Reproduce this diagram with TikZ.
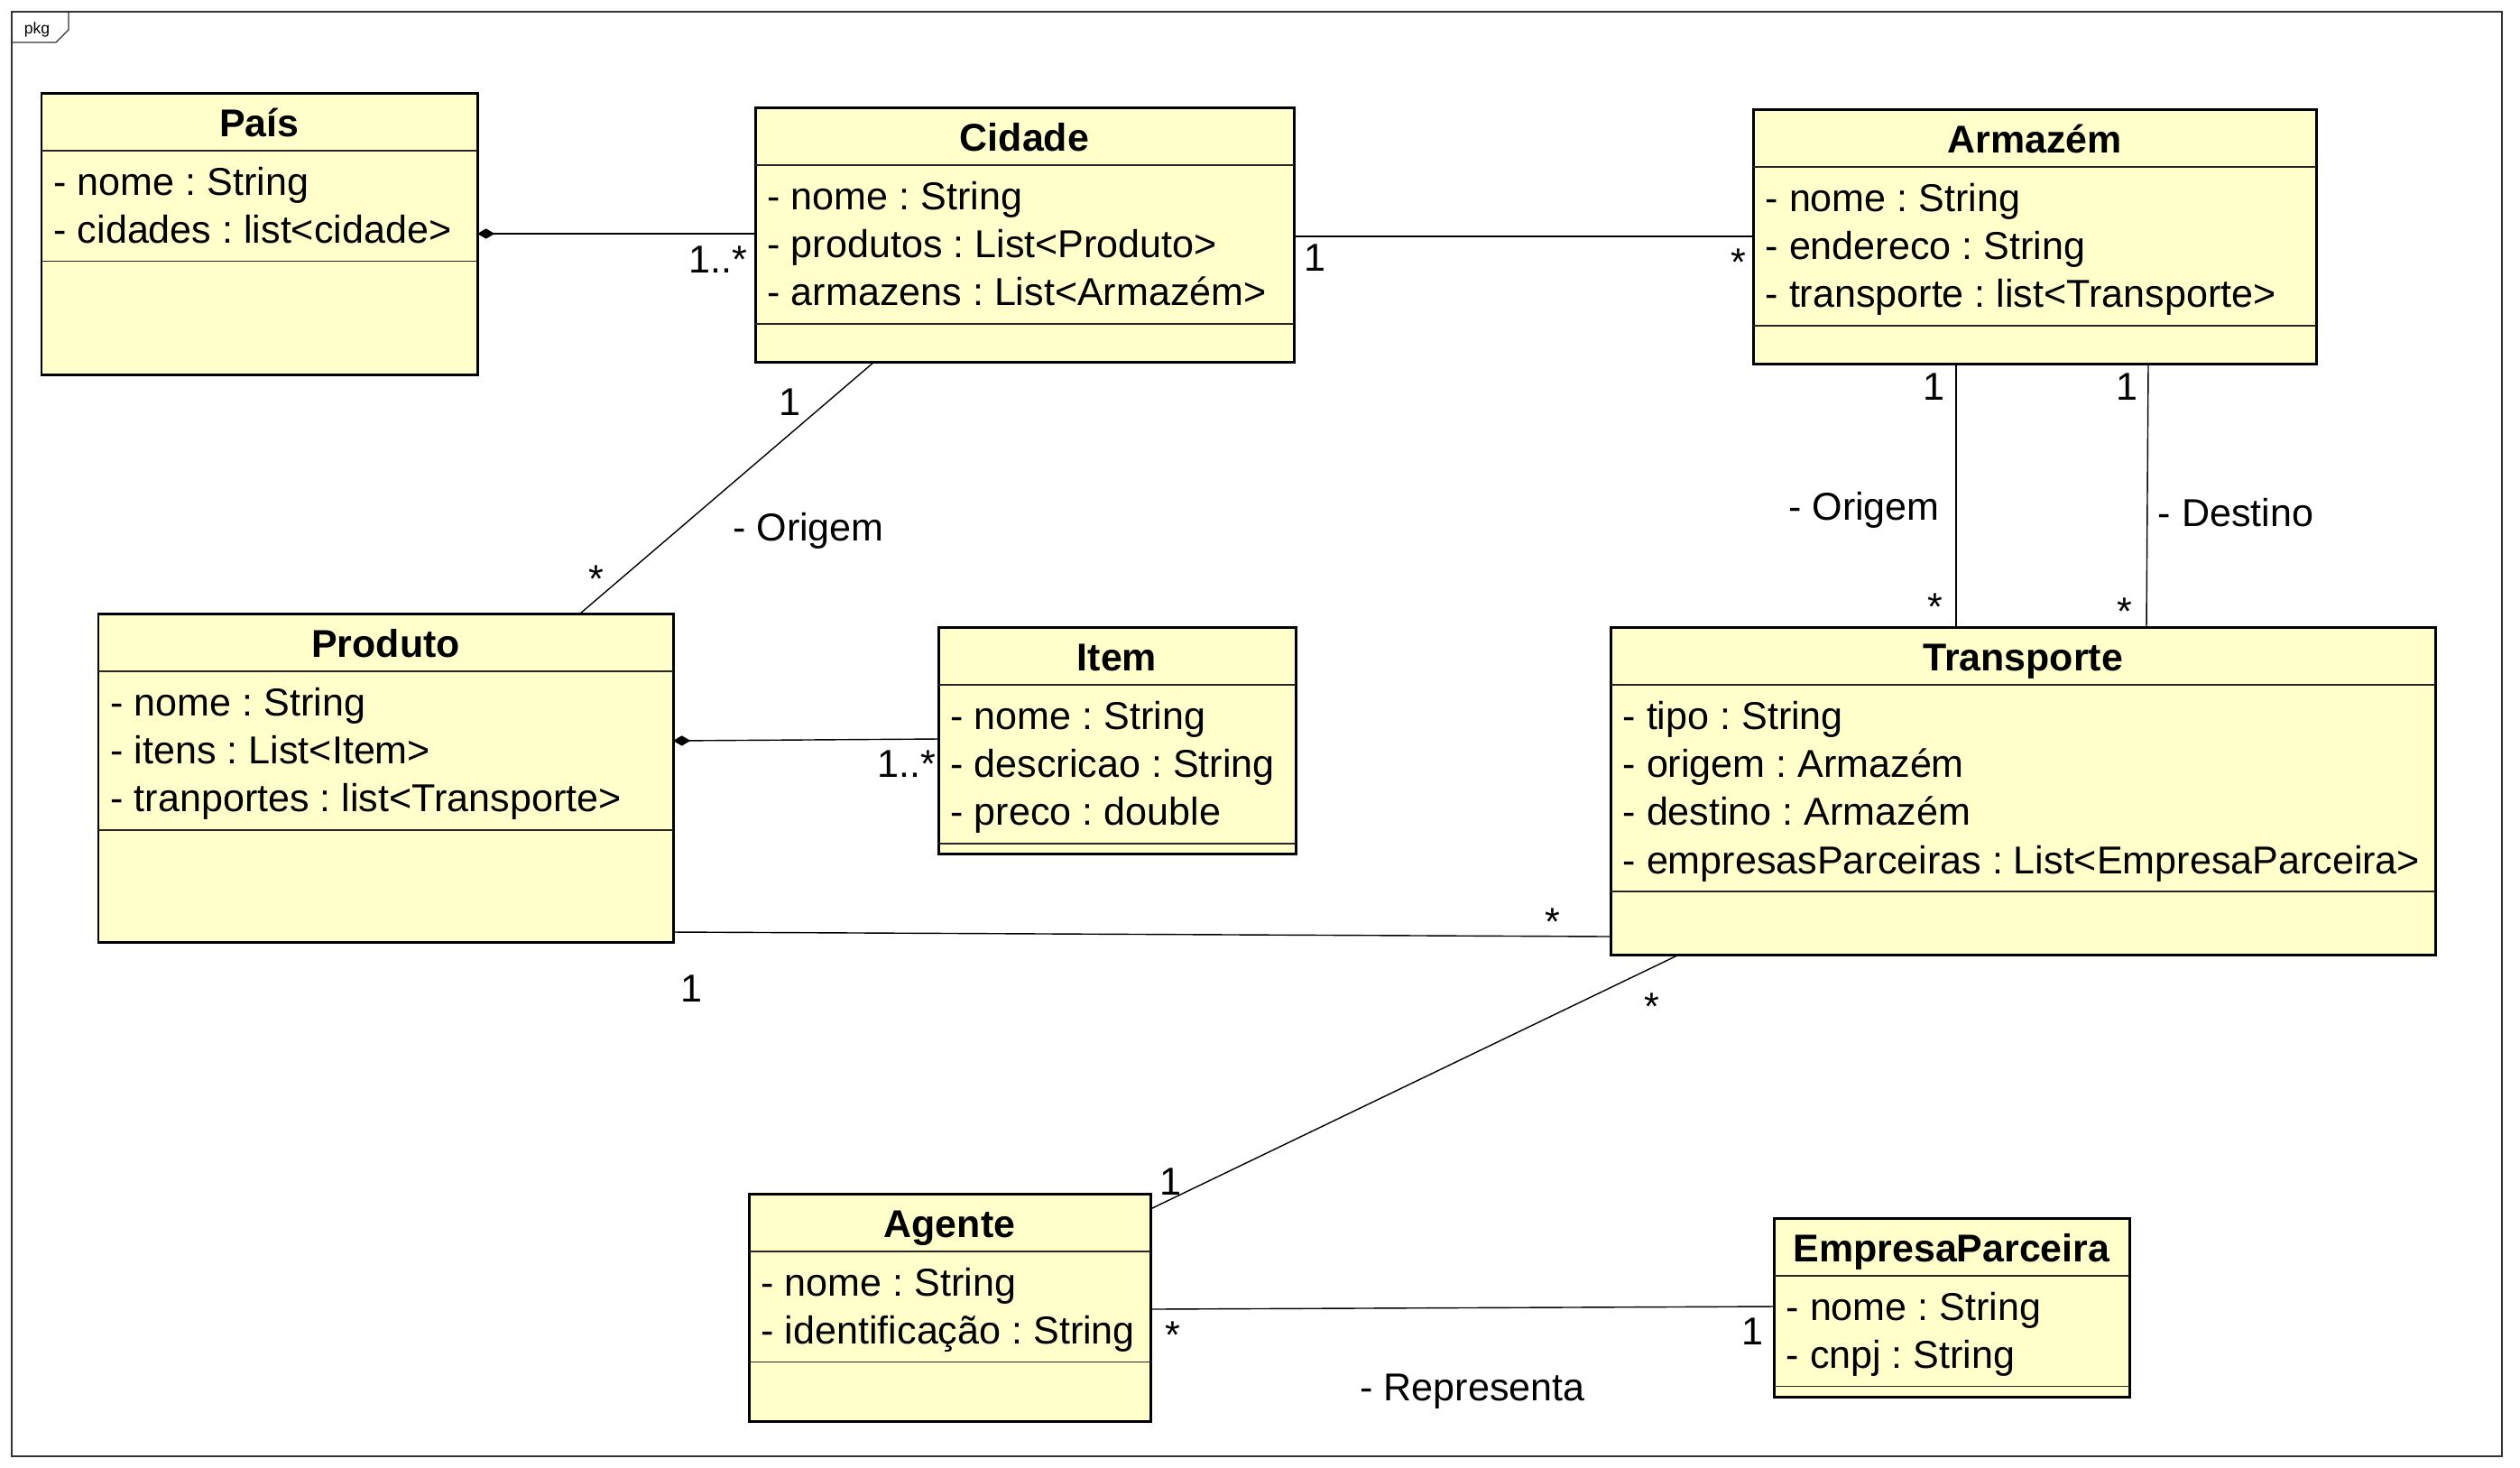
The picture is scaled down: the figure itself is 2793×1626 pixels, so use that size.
\documentclass[tikz,border=0pt]{standalone}
\usepackage{fontspec}
\setmainfont{Liberation Sans}
\usetikzlibrary{fit,arrows.meta}
\definecolor{classfill}{HTML}{FFFFCC}
\frenchspacing
\tikzset{
  classbox/.style={draw=black, fill=classfill, line width=0.85pt, inner sep=0pt, outer sep=0pt},
  divider/.style={draw=black!85, line width=0.45pt},
  titletext/.style={font=\fontsize{12.2}{14}\selectfont\bfseries, inner sep=0pt},
  attrtext/.style={font=\fontsize{12.25}{14}\selectfont, inner sep=0pt},
  lbl/.style={font=\fontsize{12.25}{14}\selectfont, inner sep=0pt, anchor=base},
  assoc/.style={draw=black, line width=0.4pt},
  comp/.style={assoc, {Diamond[length=5.5pt,width=3.2pt]}-},
  frameline/.style={draw=black!80, line width=0.35pt},
}
% #1 name, #2 x1, #3 top, #4 x2, #5 bottom, #6 number of attributes, #7 title, #8 attributes
\newcommand\umlclass[8]{%
  \node[classbox, fit={(#2,#3)(#4,#5)}] (#1) {};
  \node[titletext, anchor=base] (#1-title) at ({(#2+#4)/2},{#3+48}) {#7};
  \draw[divider] (#2,#3+64) -- (#4,#3+64);
  \foreach \atxt [count=\i from 0] in {#8} {
    \node[attrtext, anchor=base west] (#1-a\i) at ({#2+13},{#3+113+53.4*\i}) {\atxt};
  }
  \draw[divider] (#2,{#3+113+53.4*(#6-1)+20}) -- (#4,{#3+113+53.4*(#6-1)+20});
}
\begin{document}
\begin{tikzpicture}[x=0.01cm,y=-0.01cm]
\useasboundingbox[fill=white] (0,0) rectangle (2793,1626);
% package frame
\node[frameline, inner sep=0pt, fit={(13,13)(2773,1614)}] (frame) {};
\draw[frameline] (frame.north west |- 0,47) -- (62,47) -- (76,33) -- (76,13);
\node[font=\fontsize{5}{6}\selectfont, inner sep=0pt, anchor=base] (pkg) at (41,37) {pkg};

% classes
\umlclass{pais}{46}{103}{529}{415}{2}{País}{{- nome : String},{- cidades : list<cidade>}}
\umlclass{cidade}{837}{119}{1434}{401}{3}{Cidade}{{- nome : String},{- produtos : List<Produto>},{- armazens : List<Armazém>}}
\umlclass{armazem}{1943}{121}{2567}{403}{3}{Armazém}{{- nome : String},{- endereco : String},{- transporte : list<Transporte>}}
\umlclass{produto}{109}{680}{746}{1044}{3}{Produto}{{- nome : String},{- itens : List<Item>},{- tranportes : list<Transporte>}}
\umlclass{item}{1040}{695}{1436}{946}{3}{Item}{{- nome : String},{- descricao : String},{- preco : double}}
\umlclass{transporte}{1785}{695}{2699}{1058}{4}{Transporte}{{- tipo : String},{- origem : Armazém},{- destino : Armazém},{- empresasParceiras : List<EmpresaParceira>}}
\umlclass{agente}{830}{1323}{1275}{1575}{2}{Agente}{{- nome : String},{- identificação : String}}
\umlclass{empresa}{1966}{1350}{2360}{1548}{2}{EmpresaParceira}{{- nome : String},{- cnpj : String}}

% connectors
\draw[comp] (pais.east |- 0,259) -- (cidade.west |- 0,259);
\draw[assoc] (cidade.east |- 0,262) -- (armazem.west |- 0,262);
\draw[assoc] (969,0 |- cidade.south) -- (643,0 |- produto.north);
\draw[comp] (produto.east |- 0,821) -- (item.west |- 0,819);
\draw[assoc] (produto.east |- 0,1033) -- (transporte.west |- 0,1038);
\draw[assoc] (2168,0 |- armazem.south) -- (2168,0 |- transporte.north);
\draw[assoc] (2381,0 |- armazem.south) -- (2379,0 |- transporte.north);
\draw[assoc] (1861,0 |- transporte.south) -- (agente.east |- 0,1340);
\draw[assoc] (agente.east |- 0,1451) -- (empresa.west |- 0,1448);

% labels
\node[lbl] (l1) at (796,302) {1..*};
\node[lbl] (l2) at (1457,300) {1};
\node[lbl] (l3) at (1927,305) {*};
\node[lbl] (l4) at (875,460) {1};
\node[lbl] (l5) at (661,656) {*};
\node[lbl] (l6) at (896,599) {- Origem};
\node[lbl] (l7) at (1005,861) {1..*};
\node[lbl] (l8) at (1721,1036) {*};
\node[lbl] (l9) at (766,1110) {1};
\node[lbl] (l10) at (2143,443) {1};
\node[lbl] (l11) at (2145,687) {*};
\node[lbl] (l12) at (2066,576) {- Origem};
\node[lbl] (l13) at (2357,443) {1};
\node[lbl] (l14) at (2355,692) {*};
\node[lbl] (l15) at (2478,583) {- Destino};
\node[lbl] (l16) at (1831,1130) {*};
\node[lbl] (l17) at (1297,1324) {1};
\node[lbl] (l18) at (1300,1494) {*};
\node[lbl] (l19) at (1942,1490) {1};
\node[lbl] (l20) at (1632,1552) {- Representa};
\end{tikzpicture}
\end{document}
